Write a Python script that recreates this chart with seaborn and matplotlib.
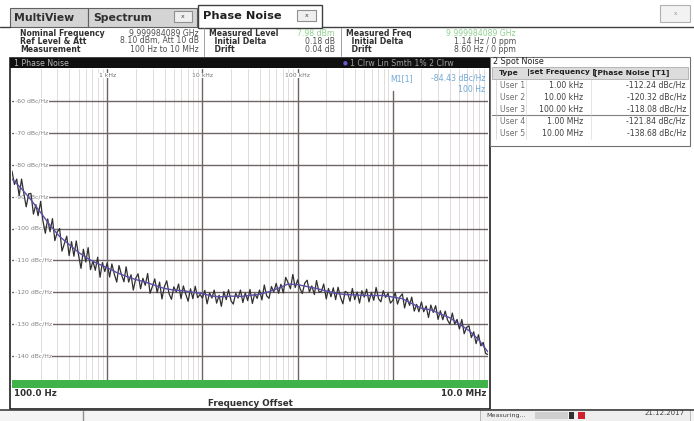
import pandas as pd
import seaborn as sns
import matplotlib.pyplot as plt
from matplotlib.patches import Rectangle

# sweep points of the raw trace (Hz), 40 per decade
raw_freq = [
    100, 106, 112, 119, 126, 133, 141, 150, 158, 168, 178, 188, 200, 211, 224, 237, 251, 266, 282, 299,
    316, 335, 355, 376, 398, 422, 447, 473, 501, 531, 562, 596, 631, 668, 708, 750, 794, 841, 891, 944,
    1000, 1060, 1120, 1190, 1260, 1330, 1410, 1500, 1580, 1680, 1780, 1880, 2000, 2110, 2240, 2370,
    2510, 2660, 2820, 2990, 3160, 3350, 3550, 3760, 3980, 4220, 4470, 4730, 5010, 5310, 5620, 5960,
    6310, 6680, 7080, 7500, 7940, 8410, 8910, 9440,
    10000, 10600, 11200, 11900, 12600, 13300, 14100, 15000, 15800, 16800, 17800, 18800, 20000, 21100,
    22400, 23700, 25100, 26600, 28200, 29900, 31600, 33500, 35500, 37600, 39800, 42200, 44700, 47300,
    50100, 53100, 56200, 59600, 63100, 66800, 70800, 75000, 79400, 84100, 89100, 94400,
    100000, 106000, 112000, 119000, 126000, 133000, 141000, 150000, 158000, 168000, 178000, 188000,
    200000, 211000, 224000, 237000, 251000, 266000, 282000, 299000, 316000, 335000, 355000, 376000,
    398000, 422000, 447000, 473000, 501000, 531000, 562000, 596000, 631000, 668000, 708000, 750000,
    794000, 841000, 891000, 944000,
    1000000, 1060000, 1120000, 1190000, 1260000, 1330000, 1410000, 1500000, 1580000, 1680000,
    1780000, 1880000, 2000000, 2110000, 2240000, 2370000, 2510000, 2660000, 2820000, 2990000,
    3160000, 3350000, 3550000, 3760000, 3980000, 4220000, 4470000, 4730000, 5010000, 5310000,
    5620000, 5960000, 6310000, 6680000, 7080000, 7500000, 7940000, 8410000, 8910000, 9440000,
    10000000,
]
raw_dbc = [
    -82.0, -86.2, -84.5, -89.7, -84.5, -88.9, -93.2, -89.1, -89.0, -95.5, -92.5, -96.0, -91.5, -97.5,
    -101.5, -97.0, -101.0, -96.9, -103.8, -101.1, -100.0, -107.1, -104.7, -102.4, -108.5, -104.1,
    -108.7, -103.9, -108.5, -112.5, -106.5, -110.5, -106.0, -112.9, -110.2, -113.1, -109.0, -115.3,
    -110.7, -113.5,
    -110.8, -115.2, -111.1, -114.4, -116.8, -111.6, -114.4, -116.7, -112.0, -116.8, -114.5, -119.3,
    -115.5, -114.2, -118.9, -115.6, -117.8, -114.1, -120.3, -118.1, -115.8, -120.1, -116.8, -122.1,
    -118.3, -116.4, -120.5, -122.2, -118.3, -119.9, -117.4, -122.0, -118.0, -120.6, -122.8, -118.9,
    -122.0, -118.1, -121.7, -120.7,
    -121.8, -119.4, -123.6, -120.2, -121.8, -119.3, -123.4, -120.9, -124.4, -119.8, -122.3, -119.2,
    -122.7, -123.7, -120.3, -121.8, -119.3, -123.2, -120.2, -122.6, -119.1, -123.5, -120.4, -121.9,
    -119.3, -122.4, -117.7, -121.1, -121.9, -118.2, -119.9, -117.2, -120.3, -117.5, -120.2, -115.3,
    -117.0, -118.9, -114.4, -118.5,
    -116.1, -118.8, -120.4, -117.1, -116.2, -119.9, -118.0, -120.7, -116.3, -120.0, -119.7, -117.4,
    -122.1, -118.8, -121.4, -118.6, -122.3, -118.4, -121.5, -123.6, -119.7, -120.2, -122.8, -118.8,
    -122.3, -119.9, -123.4, -119.5, -121.5, -119.0, -123.0, -120.0, -122.5, -118.5, -122.0, -123.0,
    -119.5, -121.6, -120.3, -123.4,
    -122.5, -120.1, -123.7, -121.4, -120.5, -124.9, -121.7, -124.1, -121.5, -125.9, -123.8, -126.1,
    -123.0, -126.1, -124.3, -127.9, -124.0, -126.3, -124.2, -128.5, -125.8, -128.6, -125.9, -128.7,
    -130.0, -126.5, -130.0, -128.5, -131.5, -128.5, -133.0, -131.0, -130.5, -134.2, -132.4, -136.1,
    -133.3, -136.8, -135.7, -139.2,
    -139.5,
]

# smoothed trace (trace 1, Lin Smth 1%), 10 points per decade
smooth_freq = [
    100, 126, 158, 200, 251, 316, 398, 501, 631, 794,
    1000, 1259, 1585, 1995, 2512, 3162, 3981, 5012, 6310, 7943,
    10000, 12590, 15850, 19950, 25120, 31620, 39810, 50120, 63100, 79430,
    100000, 125900, 158500, 199500, 251200, 316200, 398100, 501200, 631000, 794300,
    1000000, 1259000, 1585000, 1995000, 2512000, 3162000, 3981000, 5012000, 6310000, 7943000,
    10000000,
]
smooth_dbc = [
    -84.5, -87.5, -91.0, -95.0, -99.0, -102.5, -105.0, -107.5, -109.5, -111.0,
    -112.3, -113.8, -115.0, -116.0, -116.8, -117.8, -118.8, -119.3, -119.5, -120.0,
    -120.4, -121.2, -121.4, -121.2, -121.3, -121.0, -120.6, -119.8, -118.7, -117.4,
    -117.6, -118.2, -118.8, -119.6, -120.3, -120.7, -120.8, -121.0, -121.0, -121.0,
    -121.5, -122.0, -123.5, -125.0, -125.5, -126.8, -128.0, -130.0, -132.0, -134.8,
    -138.7,
]

y_ticks = [-60, -70, -80, -90, -100, -110, -120, -130, -140]
x_top_labels = {1e3: "1 kHz", 1e4: "10 kHz", 1e5: "100 kHz"}

spot_type = ["User 1", "User 2", "User 3", "User 4", "User 5"]
spot_freq = ["1.00 kHz", "10.00 kHz", "100.00 kHz", "1.00 MHz", "10.00 MHz"]
spot_noise = ["-112.24 dBc/Hz", "-120.32 dBc/Hz", "-118.08 dBc/Hz", "-121.84 dBc/Hz", "-138.68 dBc/Hz"]

sns.set_style("white")
plt.rcParams['font.family'] = ['DejaVu Sans']

W, H = 694, 421
fig = plt.figure(figsize=(W / 100, H / 100), dpi=100)

# background canvas in pixel coordinates
bg = fig.add_axes([0, 0, 1, 1])
bg.set_xlim(0, W)
bg.set_ylim(H, 0)
bg.axis('off')


def box(x0, y0, x1, y1, fc, ec='none', lw=0.8, z=1):
    bg.add_patch(Rectangle((x0, y0), x1 - x0, y1 - y0, facecolor=fc, edgecolor=ec, linewidth=lw, zorder=z))


# tab bar
box(0, 0, W, 27, '#ffffff')
box(10, 8, 88, 27, '#d4d4d4', '#606060')
box(88, 8, 197, 27, '#d4d4d4', '#606060')
box(198, 5, 322, 28, '#ffffff', '#404040', lw=1.0)
bg.plot([0, 10], [27, 27], color='#404040', lw=1.0)
bg.plot([322, W], [27, 27], color='#404040', lw=1.0)
bg.text(14, 18, "MultiView", fontsize=7.8, fontweight='bold', color='#303030', va='center')
bg.text(93, 18, "Spectrum", fontsize=7.8, fontweight='bold', color='#303030', va='center')
bg.text(203, 16, "Phase Noise", fontsize=8.2, fontweight='bold', color='#202020', va='center')
box(174, 11, 192, 22, '#efefef', '#909090')
bg.text(183, 16.5, "x", fontsize=4.5, color='#404040', ha='center', va='center')
box(297, 10, 316, 21, '#efefef', '#909090')
bg.text(306.5, 15.5, "x", fontsize=4.5, color='#404040', ha='center', va='center')
box(660, 5, 690, 22, '#f2f2f2', '#b0b0b0')
bg.text(675, 13.5, "x", fontsize=4, color='#909090', ha='center', va='center')

# header info block
hdr = 5.6
rows_y = [33, 41, 49]
col1 = ["Nominal Frequency", "Ref Level & Att", "Measurement"]
col1_val = ["9.999984089 GHz", "8.10 dBm, Att 10 dB", "100 Hz to 10 MHz"]
for y, a, b in zip(rows_y, col1, col1_val):
    bg.text(20, y, a, fontsize=hdr, fontweight='bold', color='#303030', va='center')
    bg.text(199, y, b, fontsize=hdr, color='#505050', va='center', ha='right')
bg.plot([204, 204], [28, 56], color='#909090', lw=0.6)
col2 = ["Measured Level", "  Initial Delta", "  Drift"]
col2_val = ["7.98 dBm", "0.18 dB", "0.04 dB"]
col2_col = ['#8fd08f', '#505050', '#505050']
for y, a, b, c in zip(rows_y, col2, col2_val, col2_col):
    bg.text(209, y, a, fontsize=hdr, fontweight='bold', color='#303030', va='center')
    bg.text(335, y, b, fontsize=hdr, color=c, va='center', ha='right')
bg.plot([341, 341], [28, 56], color='#909090', lw=0.6)
col3 = ["Measured Freq", "  Initial Delta", "  Drift"]
col3_val = ["9.999984089 GHz", "1.14 Hz / 0 ppm", "8.60 Hz / 0 ppm"]
col3_col = ['#8fd08f', '#505050', '#505050']
for y, a, b, c in zip(rows_y, col3, col3_val, col3_col):
    bg.text(346, y, a, fontsize=hdr, fontweight='bold', color='#303030', va='center')
    bg.text(516, y, b, fontsize=hdr, color=c, va='center', ha='right')

# diagram frame and black title bar
box(10, 58, 490, 409, '#ffffff', '#202020', lw=1.2)
box(10, 58, 490, 68, '#101010', z=2)
bg.text(14, 63, "1 Phase Noise", fontsize=5.6, color='#b8b8b8', va='center', zorder=3)
bg.text(343, 63, "\u25cf", fontsize=4, color='#6a5acd', va='center', zorder=3)
bg.text(350, 63, "1 Clrw Lin Smth 1% 2 Clrw", fontsize=5.6, color='#a0a0a0', va='center', zorder=3)

# bottom labels of the diagram
bg.text(14, 394, "100.0 Hz", fontsize=6.3, fontweight='bold', color='#303030', va='center')
bg.text(486, 394, "10.0 MHz", fontsize=6.3, fontweight='bold', color='#303030', va='center', ha='right')
bg.text(250, 403, "Frequency Offset", fontsize=6.3, fontweight='bold', color='#303030', va='center', ha='center')

# spot noise table
box(490, 57, 690, 146, '#ffffff', '#707070', lw=0.8)
bg.text(493, 62, "2 Spot Noise", fontsize=5.8, color='#202020', va='center')
box(492, 67, 688, 79, '#dcdcdc', '#a0a0a0', lw=0.5)
bg.text(499, 73, "Type", fontsize=5.4, fontweight='bold', color='#202020', va='center')
bg.text(527, 73, "|set Frequency [", fontsize=5.4, fontweight='bold', color='#202020', va='center')
bg.text(594, 73, "[Phase Noise [T1]", fontsize=5.4, fontweight='bold', color='#202020', va='center')
row_y = [85, 97, 109, 121, 133]
for y, t, f, n in zip(row_y, spot_type, spot_freq, spot_noise):
    bg.text(500, y, t, fontsize=5.6, color='#707070', va='center')
    bg.text(583, y, f, fontsize=5.6, color='#404040', va='center', ha='right')
    bg.text(686, y, n, fontsize=5.6, color='#404040', va='center', ha='right')
bg.plot([492, 688], [115, 115], color='#808080', lw=0.8)
bg.plot([496, 496], [79, 139], color='#c0c0c0', lw=0.4)
bg.plot([526, 526], [79, 139], color='#d0d0d0', lw=0.4)
bg.plot([591, 591], [79, 139], color='#d0d0d0', lw=0.4)

# status bar
box(0, 410, W, H, '#f4f4f4')
bg.plot([0, W], [410, 410], color='#404040', lw=1.2)
bg.plot([83, 83], [411, H], color='#909090', lw=1.0)
box(480, 409, 690, 421, '#eeeeee', '#a0a0a0', lw=0.5)
bg.text(486, 416, "Measuring...", fontsize=4.6, color='#404040', va='center')
box(535, 412, 568, 419, '#cfcfcf')
box(569, 412, 574, 419, '#303030')
box(578, 412, 585, 419, '#d02030')
bg.text(645, 413, "21.12.2017", fontsize=5.0, color='#404040', va='center')

# main diagram axes: x 12..488 px, y 69..388 px
ax = fig.add_axes([12 / W, 1 - 388 / H, 476 / W, 319 / H])
ax.set_facecolor('white')
ax.set_xscale('log')
ax.set_xlim(100, 1e7)
ax.set_ylim(-150, -50)

for dec in [100, 1e3, 1e4, 1e5, 1e6]:
    for m in range(2, 10):
        ax.axvline(dec * m, color='#dcd4d4', lw=0.6, zorder=0)
for d in [1e3, 1e4, 1e5]:
    ax.axvline(d, color='#6e6464', lw=1.0, zorder=1)
ax.axvline(1e6, ymax=0.93, color='#6e6464', lw=1.0, zorder=1)
for yv in y_ticks:
    ax.axhline(yv, color='#6e6464', lw=1.0, zorder=1)
    ax.text(0.006, yv, "%d dBc/Hz" % yv, transform=ax.get_yaxis_transform(), fontsize=4.4,
            color='#808080', va='center', ha='left', zorder=2,
            bbox=dict(facecolor='white', edgecolor='none', pad=0.3))
for xv, lab in x_top_labels.items():
    ax.text(xv, -51.2, lab, fontsize=4.4, color='#707070', ha='center', va='top', zorder=2,
            bbox=dict(facecolor='white', edgecolor='none', pad=0.2))

raw_df = pd.DataFrame({'freq': raw_freq, 'dbc': raw_dbc})
smooth_df = pd.DataFrame({'freq': smooth_freq, 'dbc': smooth_dbc})
sns.lineplot(data=raw_df, x='freq', y='dbc', ax=ax, color='#303030', linewidth=0.9,
             estimator=None, zorder=3)
sns.lineplot(data=smooth_df, x='freq', y='dbc', ax=ax, color='#5b4fa8', linewidth=1.0,
             estimator=None, zorder=4)

# green status strip at the bottom of the diagram
ax.add_patch(Rectangle((0, 0), 1, 8 / 319, transform=ax.transAxes, facecolor='#3fb34a',
                       edgecolor='none', zorder=5))

# marker readout
ax.text(0.795, 0.985, "M1[1]", transform=ax.transAxes, fontsize=5.6, color='#6fa8d8',
        va='top', zorder=6)
ax.text(0.995, 0.985, "-84.43 dBc/Hz", transform=ax.transAxes, fontsize=5.6, color='#6fa8d8',
        va='top', ha='right', zorder=6)
ax.text(0.995, 0.95, "100 Hz", transform=ax.transAxes, fontsize=5.6, color='#6fa8d8',
        va='top', ha='right', zorder=6)

ax.set_xlabel('')
ax.set_ylabel('')
ax.set_xticks([])
ax.set_yticks([])
ax.minorticks_off()
for s in ax.spines.values():
    s.set_visible(False)

fig.savefig('out.png', dpi=100)
